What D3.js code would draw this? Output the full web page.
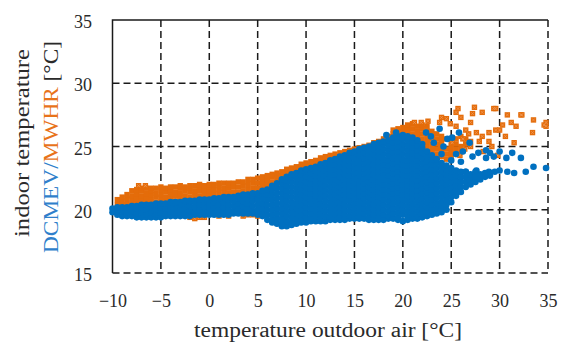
<!DOCTYPE html>
<html>
<head>
<meta charset="utf-8">
<script src="https://cdn.jsdelivr.net/npm/d3@7"></script>
<style>
  body { margin: 0; background: #fff; }
  svg { display: block; font-family: "Liberation Serif", "Times New Roman", serif; }
</style>
</head>
<body>
<div id="root"></div>
<script>
// Axis ticks
const xTicks = [-10, -5, 0, 5, 10, 15, 20, 25, 30, 35];
const yTicks = [15, 20, 25, 30, 35];

// MWHR (orange) - columns of points: [outdoor temp, [indoor temps]]
const mwhrCols = [
  [-9.5, [20.4, 20.8]],
  [-9, [20.4, 20.7, 21.0]],
  [-8.5, [20.5, 20.9, 21.2]],
  [-8, [20.4, 20.8, 21.1, 21.5]],
  [-7.5, [20.6, 20.9, 21.3, 21.6]],
  [-7, [20.4, 20.8, 21.1, 21.5, 21.7]],
  [-6.5, [20.6, 20.9, 21.3, 21.7]],
  [-6, [20.5, 20.8, 21.2, 21.5, 21.7]],
  [-5.5, [20.6, 21.0, 21.3, 21.7]],
  [-5, [20.5, 20.9, 21.2, 21.6, 21.8]],
  [-4.5, [20.7, 21.0, 21.4, 21.7]],
  [-4, [20.6, 20.9, 21.3, 21.6, 21.8]],
  [-3.5, [20.7, 21.1, 21.4, 21.8]],
  [-3, [20.6, 21.0, 21.3, 21.7, 21.9]],
  [-2.5, [20.8, 21.1, 21.5, 21.8]],
  [-2, [20.7, 21.0, 21.4, 21.7, 21.9]],
  [-1.5, [20.8, 21.2, 21.5, 21.9]],
  [-1, [20.8, 21.1, 21.5, 21.8, 22.0]],
  [-0.5, [20.9, 21.2, 21.6, 21.9]],
  [0, [20.8, 21.2, 21.5, 21.8, 22.0]],
  [0.5, [20.9, 21.3, 21.6, 22.0]],
  [1, [20.9, 21.2, 21.6, 21.9, 22.1]],
  [1.5, [21.0, 21.4, 21.7, 22.1]],
  [2, [21.0, 21.3, 21.7, 22.0, 22.1]],
  [2.5, [21.0, 21.4, 21.8, 22.1]],
  [3, [21.1, 21.4, 21.8, 22.2]],
  [3.5, [21.1, 21.5, 21.9, 22.2]],
  [4, [21.2, 21.6, 22.0, 22.4]],
  [4.5, [21.3, 21.7, 22.1, 22.4]],
  [5, [21.3, 21.7, 22.1, 22.5]],
  [5.5, [21.5, 21.9, 22.3, 22.6]],
  [6, [21.6, 22.0, 22.4, 22.7]],
  [6.5, [21.9, 22.2, 22.6, 22.8]],
  [7, [22.1, 22.4, 22.7, 22.9]],
  [7.5, [22.3, 22.7, 23.0]],
  [8, [22.6, 22.9, 23.2]],
  [8.5, [22.8, 23.1, 23.3]],
  [9, [22.9, 23.2, 23.4]],
  [9.5, [23.1, 23.4, 23.6]],
  [10, [23.2, 23.5, 23.7]],
  [10.5, [23.3, 23.6, 23.8]],
  [11, [23.4, 23.7, 23.9]],
  [11.5, [23.6, 23.9, 24.1]],
  [12, [23.7, 24.0, 24.2]],
  [12.5, [23.9, 24.1, 24.3]],
  [13, [24.0, 24.2, 24.4]],
  [13.5, [24.2, 24.5]],
  [14, [24.3, 24.6]],
  [14.5, [24.5, 24.7]],
  [15, [24.6, 24.8]],
  [15.5, [24.8, 24.9]],
  [16, [24.9, 25.0]],
  [16.5, [25.0, 25.1]],
  [17, [25.2, 25.3]],
  [17.5, [25.3, 25.4]],
  [18, [25.4, 25.6]],
  [18.5, [25.5, 25.8]],
  [19, [25.7, 26.0, 26.3]],
  [19.5, [25.8, 26.1, 26.4]],
  [20, [25.9, 26.2, 26.5]],
  [20.5, [25.8, 26.1, 26.5, 26.7]],
  [21, [25.7, 26.0, 26.4, 26.8]],
  [21.5, [25.5, 25.8, 26.2, 26.6]],
  [22, [25.2, 25.6, 26.0, 26.4, 26.7]],
  [22.5, [24.6, 25.0, 25.4, 25.8, 26.2, 26.6]],
  [23, [24.2, 24.6, 25.0, 25.4, 25.8, 26.2]],
  [23.5, [24.0, 24.4, 24.8, 25.2, 25.6, 26.0]],
  [24, [24.2, 24.6, 25.0, 25.4, 25.8]],
  [24.5, [24.0, 24.4, 24.8, 25.6]],
  [25, [24.2, 24.6, 25.0, 25.4]],
  [25.5, [24.8, 25.2, 25.6]],
  [26, [24.6, 25.0, 25.8]],
  [26.5, [25.2, 25.6]],
  [27, [25.4]]
];

// MWHR scattered points: [outdoor temp, indoor temp]
const mwhrSpread = [
  [-2, 19.4], [-1.5, 19.3], [-1, 19.4], [-0.5, 19.4], [1, 19.5], [2, 19.5],
  [3.5, 19.5], [4, 19.6], [4.5, 19.6], [5, 19.5], [-7.3, 21.9], [-6.6, 21.9],
  [25.5, 27.7], [26, 27.3], [27.4, 28.1], [28.2, 27.7], [29.6, 28.0], [30.8, 27.5],
  [32.3, 27.5], [33.5, 27.1], [34.8, 26.9], [34.8, 26.6], [31.7, 26.6], [30.3, 26.7],
  [29.6, 26.3], [28.9, 26.1], [30.6, 25.8], [33.4, 26.1], [31.5, 25.3], [27, 26.9],
  [24.5, 27.2], [23.8, 26.9], [25.5, 26.6], [26.5, 26.3], [27.6, 26.1], [28.2, 25.8],
  [27.9, 25.4], [28.9, 25.4], [23.0, 25.5], [25.1, 25.3], [25.7, 28.0], [29.4, 28.0],
  [31.2, 26.9], [32.2, 27.5], [34.6, 26.7], [24.0, 27.3], [21.9, 26.9], [21.2, 26.9],
  [26.2, 25.6], [27.0, 25.0], [29.2, 25.0], [26.4, 24.8], [29.8, 24.3], [30.0, 26.3],
  [22.6, 27.0], [24.9, 26.8], [27.2, 27.6], [26.8, 26.0], [25.9, 24.3], [28.3, 24.6]
];

// DCMEV (blue) - columns of points: [outdoor temp, [indoor temps]]
const dcmevCols = [
  [-10, [19.8, 20.1]],
  [-9.5, [19.6, 19.9, 20.2]],
  [-9, [19.5, 19.9, 20.2]],
  [-8.5, [19.5, 19.8, 20.2]],
  [-8, [19.5, 19.9, 20.3]],
  [-7.5, [19.4, 19.7, 20.1, 20.3]],
  [-7, [19.4, 19.8, 20.2, 20.4]],
  [-6.5, [19.4, 19.6, 20.0, 20.4]],
  [-6, [19.4, 19.8, 20.2, 20.4]],
  [-5.5, [19.4, 19.6, 20.0, 20.4, 20.5]],
  [-5, [19.4, 19.8, 20.2, 20.5]],
  [-4.5, [19.5, 19.7, 20.1, 20.5]],
  [-4, [19.5, 19.9, 20.3, 20.6]],
  [-3.5, [19.5, 19.7, 20.1, 20.5, 20.6]],
  [-3, [19.5, 19.9, 20.3, 20.6]],
  [-2.5, [19.5, 19.7, 20.1, 20.5, 20.7]],
  [-2, [19.5, 19.9, 20.3, 20.7]],
  [-1.5, [19.6, 19.8, 20.2, 20.6, 20.7]],
  [-1, [19.6, 20.0, 20.4, 20.8]],
  [-0.5, [19.6, 19.8, 20.2, 20.6, 20.8]],
  [0, [19.6, 20.0, 20.4, 20.8]],
  [0.5, [19.6, 19.8, 20.2, 20.6, 20.9]],
  [1, [19.6, 20.0, 20.4, 20.8, 20.9]],
  [1.5, [19.6, 19.8, 20.2, 20.6, 21.0]],
  [2, [19.6, 20.0, 20.4, 20.8, 21.0]],
  [2.5, [19.7, 19.9, 20.3, 20.7, 21.0]],
  [3, [19.7, 20.1, 20.5, 20.9, 21.1]],
  [3.5, [19.7, 19.9, 20.3, 20.7, 21.1, 21.2]],
  [4, [19.7, 20.1, 20.5, 20.9, 21.2]],
  [4.5, [19.7, 19.9, 20.3, 20.7, 21.1, 21.3]],
  [5, [19.6, 20.0, 20.4, 20.8, 21.2, 21.3]],
  [5.5, [19.5, 19.7, 20.1, 20.5, 20.9, 21.3, 21.5]],
  [6, [19.2, 19.6, 20.0, 20.4, 20.8, 21.2, 21.6]],
  [6.5, [19.0, 19.2, 19.6, 20.0, 20.4, 20.8, 21.2, 21.6, 21.9]],
  [7, [18.9, 19.3, 19.7, 20.1, 20.5, 20.9, 21.3, 21.7, 22.1]],
  [7.5, [18.7, 18.9, 19.3, 19.7, 20.1, 20.5, 20.9, 21.3, 21.7, 22.1, 22.4]],
  [8, [18.7, 19.1, 19.5, 19.9, 20.3, 20.7, 21.1, 21.5, 21.9, 22.3, 22.6]],
  [8.5, [18.8, 19.0, 19.4, 19.8, 20.2, 20.6, 21.0, 21.4, 21.8, 22.2, 22.6, 22.8]],
  [9, [18.9, 19.3, 19.7, 20.1, 20.5, 20.9, 21.3, 21.7, 22.1, 22.5, 22.9]],
  [9.5, [19.0, 19.2, 19.6, 20.0, 20.4, 20.8, 21.2, 21.6, 22.0, 22.4, 22.8, 23.1]],
  [10, [19.0, 19.4, 19.8, 20.2, 20.6, 21.0, 21.4, 21.8, 22.2, 22.6, 23.0, 23.2]],
  [10.5, [19.1, 19.3, 19.7, 20.1, 20.5, 20.9, 21.3, 21.7, 22.1, 22.5, 22.9, 23.3]],
  [11, [19.1, 19.5, 19.9, 20.3, 20.7, 21.1, 21.5, 21.9, 22.3, 22.7, 23.1, 23.4]],
  [11.5, [19.1, 19.3, 19.7, 20.1, 20.5, 20.9, 21.3, 21.7, 22.1, 22.5, 22.9, 23.3, 23.6]],
  [12, [19.1, 19.5, 19.9, 20.3, 20.7, 21.1, 21.5, 21.9, 22.3, 22.7, 23.1, 23.5, 23.7]],
  [12.5, [19.2, 19.4, 19.8, 20.2, 20.6, 21.0, 21.4, 21.8, 22.2, 22.6, 23.0, 23.4, 23.8, 23.9]],
  [13, [19.2, 19.6, 20.0, 20.4, 20.8, 21.2, 21.6, 22.0, 22.4, 22.8, 23.2, 23.6, 24.0]],
  [13.5, [19.2, 19.4, 19.8, 20.2, 20.6, 21.0, 21.4, 21.8, 22.2, 22.6, 23.0, 23.4, 23.8, 24.2]],
  [14, [19.2, 19.6, 20.0, 20.4, 20.8, 21.2, 21.6, 22.0, 22.4, 22.8, 23.2, 23.6, 24.0, 24.3]],
  [14.5, [19.3, 19.5, 19.9, 20.3, 20.7, 21.1, 21.5, 21.9, 22.3, 22.7, 23.1, 23.5, 23.9, 24.3, 24.5]],
  [15, [19.3, 19.7, 20.1, 20.5, 20.9, 21.3, 21.7, 22.1, 22.5, 22.9, 23.3, 23.7, 24.1, 24.5, 24.6]],
  [15.5, [19.3, 19.5, 19.9, 20.3, 20.7, 21.1, 21.5, 21.9, 22.3, 22.7, 23.1, 23.5, 23.9, 24.3, 24.7, 24.8]],
  [16, [19.3, 19.7, 20.1, 20.5, 20.9, 21.3, 21.7, 22.1, 22.5, 22.9, 23.3, 23.7, 24.1, 24.5, 24.9]],
  [16.5, [19.2, 19.4, 19.8, 20.2, 20.6, 21.0, 21.4, 21.8, 22.2, 22.6, 23.0, 23.4, 23.8, 24.2, 24.6, 25.0]],
  [17, [19.2, 19.6, 20.0, 20.4, 20.8, 21.2, 21.6, 22.0, 22.4, 22.8, 23.2, 23.6, 24.0, 24.4, 24.8, 25.2]],
  [17.5, [19.2, 19.4, 19.8, 20.2, 20.6, 21.0, 21.4, 21.8, 22.2, 22.6, 23.0, 23.4, 23.8, 24.2, 24.6, 25.0, 25.3]],
  [18, [19.2, 19.6, 20.0, 20.4, 20.8, 21.2, 21.6, 22.0, 22.4, 22.8, 23.2, 23.6, 24.0, 24.4, 24.8, 25.2, 25.4]],
  [18.5, [19.3, 19.5, 19.9, 20.3, 20.7, 21.1, 21.5, 21.9, 22.3, 22.7, 23.1, 23.5, 23.9, 24.3, 24.7, 25.1, 25.5]],
  [19, [19.3, 19.7, 20.1, 20.5, 20.9, 21.3, 21.7, 22.1, 22.5, 22.9, 23.3, 23.7, 24.1, 24.5, 24.9, 25.3, 25.7]],
  [19.5, [19.2, 19.4, 19.8, 20.2, 20.6, 21.0, 21.4, 21.8, 22.2, 22.6, 23.0, 23.4, 23.8, 24.2, 24.6, 25.0, 25.4, 25.8]],
  [20, [19.1, 19.6, 20.0, 20.4, 20.8, 21.2, 21.6, 22.0, 22.4, 22.8, 23.2, 23.6, 24.0, 24.4, 24.8, 25.2, 25.6, 25.9]],
  [20.5, [19.2, 19.5, 19.9, 20.3, 20.7, 21.1, 21.5, 21.9, 22.3, 22.7, 23.1, 23.5, 23.9, 24.3, 24.7, 25.1, 25.5, 25.8]],
  [21, [19.3, 19.7, 20.1, 20.5, 20.9, 21.3, 21.7, 22.1, 22.5, 22.9, 23.3, 23.7, 24.1, 24.5, 24.9, 25.3, 25.7]],
  [21.5, [19.3, 19.5, 19.9, 20.3, 20.7, 21.1, 21.5, 21.9, 22.3, 22.7, 23.1, 23.5, 23.9, 24.3, 24.7, 25.1, 25.5]],
  [22, [19.4, 19.7, 20.1, 20.5, 20.9, 21.3, 21.7, 22.1, 22.5, 22.9, 23.3, 23.7, 24.1, 24.5, 24.9, 25.2]],
  [22.5, [19.5, 19.8, 20.2, 20.6, 21.0, 21.4, 21.8, 22.2, 22.6, 23.0, 23.4, 23.8, 24.2, 24.6]],
  [23, [19.6, 20.0, 20.4, 20.8, 21.2, 21.6, 22.0, 22.4, 22.8, 23.2, 23.6, 24.0, 24.3]],
  [23.5, [19.7, 20.1, 20.5, 20.9, 21.3, 21.7, 22.1, 22.5, 22.9, 23.3, 23.7, 24.0]],
  [24, [19.8, 20.2, 20.6, 21.0, 21.4, 21.8, 22.2, 22.6, 23.0, 23.4, 23.7]],
  [24.5, [20.0, 20.4, 20.8, 21.2, 21.6, 22.0, 22.4, 22.8, 23.2, 23.5]],
  [25, [20.6, 21.0, 21.4, 21.8, 22.2, 22.6, 23.0, 23.3]],
  [25.5, [21.1, 21.5, 21.9, 22.3, 22.7, 23.1]],
  [26, [21.4, 21.8, 22.2, 22.6, 23.0]],
  [26.5, [21.8, 22.2, 22.6, 23.0]],
  [27, [22.0, 22.4, 22.8]],
  [27.5, [22.2, 22.6, 23.0]],
  [28, [22.4, 22.8]],
  [28.5, [22.6, 22.9]],
  [29, [22.7]]
];

// DCMEV scattered points: [outdoor temp, indoor temp]
const dcmevSpread = [
  [18.3, 25.9], [19.3, 26.1], [22.4, 26.1], [23.8, 26.4], [25.1, 25.7], [25.8, 26.1],
  [26.9, 25.3], [28.6, 24.7], [30.0, 24.6], [31.3, 24.5], [32.2, 24.1], [27.2, 24.2],
  [28.6, 24.1], [24.2, 25.0], [25.5, 24.4], [26.2, 24.6], [23.2, 25.3], [24.0, 24.4],
  [29.4, 24.2], [30.7, 24.1], [25.0, 23.9], [26.0, 23.8], [27.8, 24.5], [29.0, 24.5],
  [22.9, 25.8], [24.6, 25.6], [26.5, 23.0], [27.6, 23.1], [28.9, 23.0], [29.5, 23.0],
  [30.0, 23.1], [31.5, 22.9], [32.7, 23.0], [33.5, 23.4], [34.8, 23.3], [30.8, 23.0]
];

const width = 564, height = 347;
const pLeft = 112.5, pRight = 548, pTop = 20, pBottom = 273;

const x = d3.scaleLinear().domain([-10, 35]).range([pLeft, pRight]);
const y = d3.scaleLinear().domain([15, 35]).range([pBottom, pTop]);

const blue = "#0070C0";
const orange = "#E46C0A";
const ink = "#2a2a2a";

const svg = d3.select("#root")
  .append("svg")
  .attr("width", width)
  .attr("height", height);

// flatten the column data into points
const flat = cols => cols.flatMap(([xv, ys]) => ys.map(yv => [xv, yv]));
const mwhr = flat(mwhrCols).concat(mwhrSpread);
const dcmev = flat(dcmevCols).concat(dcmevSpread);

// Grid
const grid = svg.append("g")
  .attr("stroke", "#1a1a1a")
  .attr("stroke-width", 1.5)
  .attr("stroke-dasharray", "7,4");

grid.selectAll("line.v")
  .data(xTicks.slice(1))
  .enter().append("line")
  .attr("class", "v")
  .attr("x1", d => x(d)).attr("x2", d => x(d))
  .attr("y1", pTop).attr("y2", pBottom);

grid.selectAll("line.h")
  .data(yTicks.slice(0, -1))
  .enter().append("line")
  .attr("class", "h")
  .attr("x1", pLeft).attr("x2", pRight)
  .attr("y1", d => y(d)).attr("y2", d => y(d));

// solid frame on top and left
svg.append("path")
  .attr("d", `M${pLeft},${pBottom}V${pTop}H${pRight}`)
  .attr("fill", "none")
  .attr("stroke", "#1a1a1a")
  .attr("stroke-width", 1.5);

// MWHR points (under)
const om = svg.append("g");
om.selectAll("rect")
  .data(mwhr)
  .enter().append("rect")
  .attr("x", d => x(d[0]) - 2.7)
  .attr("y", d => y(d[1]) - 2.7)
  .attr("width", 5.4)
  .attr("height", 5.4)
  .attr("fill", orange);
om.selectAll("path")
  .data(mwhrSpread)
  .enter().append("path")
  .attr("d", d => {
    const cx = x(d[0]), cy = y(d[1]);
    return `M${cx - 1.5},${cy - 1.5}L${cx + 1.5},${cy + 1.5}M${cx - 1.5},${cy + 1.5}L${cx + 1.5},${cy - 1.5}`;
  })
  .attr("stroke", "#EE9A5A")
  .attr("stroke-width", 0.7);

// DCMEV points (over)
svg.append("g")
  .selectAll("circle")
  .data(dcmev)
  .enter().append("circle")
  .attr("cx", d => x(d[0]))
  .attr("cy", d => y(d[1]))
  .attr("r", 3.3)
  .attr("fill", blue);

// Axes labels
const xAxis = svg.append("g")
  .attr("transform", `translate(0,${pBottom})`)
  .call(d3.axisBottom(x).tickValues(xTicks).tickSize(0).tickPadding(21));
xAxis.select(".domain").remove();
xAxis.selectAll("text")
  .attr("font-family", "Liberation Serif, serif")
  .attr("font-size", 18)
  .attr("fill", ink);

const yAxis = svg.append("g")
  .attr("transform", `translate(92,0)`)
  .call(d3.axisLeft(y).tickValues(yTicks).tickSize(0).tickPadding(0));
yAxis.select(".domain").remove();
yAxis.selectAll("text")
  .attr("font-family", "Liberation Serif, serif")
  .attr("font-size", 18)
  .attr("dy", "0.42em")
  .attr("fill", ink);

// X title
svg.append("text")
  .attr("x", 328)
  .attr("y", 337)
  .attr("text-anchor", "middle")
  .attr("font-size", 20)
  .attr("fill", ink)
  .attr("textLength", 268)
  .attr("lengthAdjust", "spacingAndGlyphs")
  .text("temperature outdoor air [°C]");

// Y title, two rotated lines
svg.append("text")
  .attr("transform", "translate(29,143) rotate(-90)")
  .attr("text-anchor", "middle")
  .attr("font-size", 20)
  .attr("fill", ink)
  .attr("textLength", 188)
  .attr("lengthAdjust", "spacingAndGlyphs")
  .text("indoor temperature");

const t2 = svg.append("text")
  .attr("transform", "translate(58,147) rotate(-90)")
  .attr("text-anchor", "middle")
  .attr("font-size", 20)
  .attr("textLength", 212)
  .attr("lengthAdjust", "spacingAndGlyphs");
t2.append("tspan").attr("fill", "#2F7FCB").text("DCMEV/");
t2.append("tspan").attr("fill", "#E8731A").text("MWHR");
t2.append("tspan").attr("fill", ink).text(" [°C]");
</script>
</body>
</html>
